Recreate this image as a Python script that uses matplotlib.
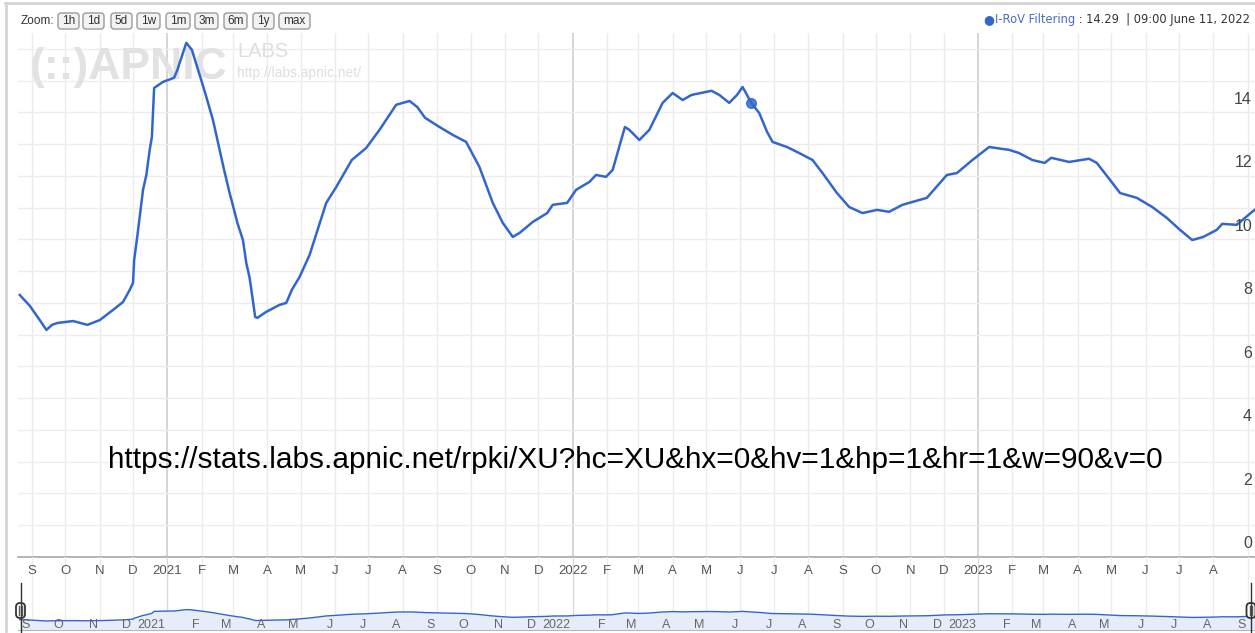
import numpy as np
import pandas as pd
import matplotlib
matplotlib.use("Agg")
import matplotlib.pyplot as plt
import matplotlib.transforms as mtransforms
from matplotlib.patches import FancyBboxPatch
from matplotlib.lines import Line2D

plt.rcParams['font.family'] = ['Liberation Sans', 'DejaVu Sans']

# ---------------- data ----------------
dates = [
    "2020-08-21", "2020-08-30", "2020-09-08", "2020-09-14", "2020-09-19", "2020-09-24",
    "2020-10-08", "2020-10-21", "2020-11-01", "2020-11-13", "2020-11-22", "2020-11-28",
    "2020-12-01", "2020-12-02", "2020-12-05", "2020-12-07", "2020-12-10", "2020-12-13",
    "2020-12-16", "2020-12-18", "2020-12-20", "2020-12-28", "2021-01-07", "2021-01-10",
    "2021-01-12", "2021-01-18", "2021-01-23", "2021-01-30", "2021-02-05", "2021-02-11",
    "2021-02-17", "2021-02-21", "2021-02-26", "2021-03-02", "2021-03-05", "2021-03-10",
    "2021-03-13", "2021-03-16", "2021-03-18", "2021-03-21", "2021-03-23", "2021-03-31",
    "2021-04-12", "2021-04-18", "2021-04-23", "2021-04-30", "2021-05-09", "2021-05-24",
    "2021-06-02", "2021-06-16", "2021-06-29", "2021-07-11", "2021-07-26", "2021-08-07",
    "2021-08-14", "2021-08-21", "2021-09-03", "2021-09-15", "2021-09-27", "2021-10-09",
    "2021-10-21", "2021-10-30", "2021-11-08", "2021-11-14", "2021-11-26", "2021-12-09",
    "2021-12-14", "2021-12-27", "2022-01-04", "2022-01-16", "2022-01-22", "2022-01-31",
    "2022-02-06", "2022-02-17", "2022-02-21", "2022-03-02", "2022-03-11", "2022-03-23",
    "2022-04-01", "2022-04-10", "2022-04-18", "2022-05-06", "2022-05-13", "2022-05-22",
    "2022-05-29", "2022-06-03", "2022-06-11", "2022-06-18", "2022-06-25", "2022-06-30",
    "2022-07-13", "2022-07-24", "2022-08-05", "2022-08-14", "2022-08-27", "2022-09-07",
    "2022-09-19", "2022-10-02", "2022-10-13", "2022-10-25", "2022-11-03", "2022-11-16",
    "2022-12-04", "2022-12-13", "2022-12-27", "2023-01-11", "2023-01-29", "2023-02-07",
    "2023-02-19", "2023-03-02", "2023-03-08", "2023-03-24", "2023-04-11", "2023-04-18",
    "2023-04-30", "2023-05-09", "2023-05-24", "2023-06-07", "2023-06-20", "2023-07-02",
    "2023-07-13", "2023-07-23", "2023-08-04", "2023-08-09", "2023-08-22", "2023-09-05",
    "2023-09-08",
]
values = [
    8.25, 7.91, 7.46, 7.15, 7.31, 7.37,
    7.43, 7.31, 7.46, 7.78, 8.03, 8.41,
    8.63, 9.35, 10.14, 10.71, 11.56, 12.03,
    12.82, 13.23, 14.77, 14.96, 15.09, 15.34,
    15.56, 16.19, 15.97, 15.18, 14.49, 13.76,
    12.82, 12.19, 11.46, 10.93, 10.52, 9.98,
    9.26, 8.79, 8.31, 7.56, 7.53, 7.72,
    7.94, 8.00, 8.41, 8.82, 9.51, 11.15,
    11.65, 12.50, 12.88, 13.45, 14.24, 14.36,
    14.17, 13.83, 13.54, 13.29, 13.07, 12.28,
    11.15, 10.52, 10.08, 10.20, 10.55, 10.83,
    11.09, 11.15, 11.56, 11.81, 12.03, 11.97,
    12.19, 13.54, 13.45, 13.13, 13.45, 14.30,
    14.61, 14.39, 14.55, 14.68, 14.55, 14.30,
    14.55, 14.80, 14.29, 13.98, 13.39, 13.07,
    12.91, 12.72, 12.50, 12.09, 11.46, 11.02,
    10.83, 10.93, 10.87, 11.09, 11.18, 11.31,
    12.03, 12.09, 12.50, 12.91, 12.82, 12.72,
    12.50, 12.41, 12.57, 12.44, 12.54, 12.41,
    11.87, 11.46, 11.31, 11.02, 10.68, 10.30,
    9.98, 10.08, 10.30, 10.49, 10.46, 10.87,
    10.95,
]
series_name = "I-RoV Filtering"
hover_date = "2022-06-11"
hover_value = 14.29
hover_text = "09:00 June 11, 2022"
month_labels = ["S", "O", "N", "D", "2021", "F", "M", "A", "M", "J", "J", "A",
                "S", "O", "N", "D", "2022", "F", "M", "A", "M", "J", "J", "A",
                "S", "O", "N", "D", "2023", "F", "M", "A", "M", "J", "J", "A", "S"]
y_ticks = [0, 2, 4, 6, 8, 10, 12, 14]
zoom_buttons = ["1h", "1d", "5d", "1w", "1m", "3m", "6m", "1y", "max"]
url_text = "https://stats.labs.apnic.net/rpki/XU?hc=XU&hx=0&hv=1&hp=1&hr=1&w=90&v=0"

# ---------------- layout ----------------
W, H = 1255, 633
fig = plt.figure(figsize=(W / 100, H / 100), dpi=100)
fig.patch.set_facecolor("white")

def fx(x):
    return x / W

def fy(y):
    return 1 - y / H

dts = pd.to_datetime(dates)
months = pd.date_range("2020-09-01", periods=len(month_labels), freq="MS")
origin = pd.Timestamp("2020-09-01")
xmin = origin - pd.Timedelta(days=12.6)
xmax = origin + pd.Timedelta(days=1101.5)

LINE = "#3366cc"
L, R = 18, 1255

# main axes
ax = fig.add_axes([fx(L), fy(557), fx(R) - fx(L), (557 - 33) / H])
ax.set_xlim(xmin, xmax)
ax.set_ylim(0, 16.5)
for s in ["top", "left", "right"]:
    ax.spines[s].set_visible(False)
ax.spines["bottom"].set_color("#a8a8a8")
ax.spines["bottom"].set_linewidth(1.2)
ax.set_xticks([])
ax.set_yticks([])
ax.set_facecolor("none")

for m in months:
    yr = m.month == 1
    ax.axvline(m, color="#d2d2d2" if yr else "#ebebeb", lw=1.3 if yr else 1.0, zorder=0)
for v in range(0, 17):
    ax.axhline(v, color="#ededed", lw=1.0, zorder=0)

ax.plot(dts, values, color=LINE, lw=1.8, zorder=3, solid_joinstyle="round")
ax.plot([pd.Timestamp(hover_date)], [hover_value], "o", color=LINE, ms=7, alpha=0.85, zorder=4)

# y labels inside on the right, above their gridlines
ytrans = mtransforms.offset_copy(
    mtransforms.blended_transform_factory(ax.transAxes, ax.transData), fig=fig, x=0, y=13, units="dots")
for v in y_ticks:
    ax.text((1252 - L) / (R - L), v, str(v), transform=ytrans, ha="right", va="center",
            fontsize=11.5, color="#444444", zorder=5)

# watermark
ax.text(fx(30), fy(79), "(::)APNIC", transform=fig.transFigure, fontsize=32, fontweight="bold",
        color="#e2e2e2", ha="left", va="baseline", zorder=1)
ax.text(fx(237), fy(57), "LABS", transform=fig.transFigure, fontsize=14.5,
        color="#dedede", ha="left", va="baseline", zorder=1)
ax.text(fx(237), fy(77), "http://labs.apnic.net/", transform=fig.transFigure, fontsize=10,
        color="#dedede", ha="left", va="baseline", zorder=1)

# lower band: month labels + navigator
axn = fig.add_axes([fx(L), fy(630), fx(R) - fx(L), (630 - 557) / H])
axn.set_xlim(xmin, xmax)
axn.set_ylim(0, 73 / 1.26)
for s in ["top", "left", "right"]:
    axn.spines[s].set_visible(False)
axn.spines["bottom"].set_color("#b8b8b8")
axn.set_xticks([])
axn.set_yticks([])
axn.set_facecolor("none")
for m in months:
    yr = m.month == 1
    axn.axvline(m, color="#d8d8d8" if yr else "#ececec", lw=1.0, zorder=0)
axn.fill_between(dts, 0, values, color="#e6ecf8", zorder=1, lw=0)
axn.plot(dts, values, color=LINE, lw=1.0, zorder=2)

btrans = mtransforms.blended_transform_factory(axn.transData, axn.transAxes)
for m, lab in zip(months[:-1], month_labels[:-1]):
    axn.text(m, (630 - 571) / 73, lab, transform=btrans, ha="center", va="center",
             fontsize=9.5, color="#555555")
ntrans = mtransforms.offset_copy(btrans, fig=fig, x=-2, y=0, units="dots")
for m, lab in zip(months, month_labels):
    axn.text(m, (630 - 625) / 73, lab, transform=ntrans, ha="right", va="center",
             fontsize=9, color="#666666", zorder=3)

# navigator handles (pixel coords)
ident = mtransforms.IdentityTransform()
for hx in (20.5, 1251):
    fig.add_artist(Line2D([hx, hx], [H - 583, H - 633], transform=ident, color="#333333", lw=1))
    fig.add_artist(FancyBboxPatch((hx - 4.5, H - 618), 9, 15, boxstyle="round,pad=0,rounding_size=4",
                                  transform=ident, facecolor="white", edgecolor="#333333", lw=1.3))
    for dx in (-1.3, 1.3):
        fig.add_artist(Line2D([hx + dx, hx + dx], [H - 606, H - 615], transform=ident,
                              color="#555555", lw=1))

# outer frame
fig.add_artist(Line2D([5, W], [H - 3, H - 3], transform=ident, color="#d4d4d4", lw=2))
fig.add_artist(Line2D([6, 6], [H - 3, H - 631], transform=ident, color="#d4d4d4", lw=2))

# zoom buttons
fig.text(fx(21), fy(21), "Zoom:", ha="left", va="center", fontsize=8.5, color="#333333")
btn_x = [(58, 79), (83, 104), (111, 132), (137, 160), (166, 190), (195, 218), (224, 247), (253, 274), (279, 310)]
for (x0, x1), lab in zip(btn_x, zoom_buttons):
    fig.add_artist(FancyBboxPatch((x0, H - 29), x1 - x0, 16, boxstyle="round,pad=0,rounding_size=3",
                                  transform=ident, facecolor="#f3f3f3", edgecolor="#9a9a9a", lw=1))
    fig.text(fx((x0 + x1) / 2), fy(21), lab, ha="center", va="center", fontsize=8.5, color="#333333")

# legend (top right)
t2 = fig.text(fx(1250), fy(20), " : %.2f  | %s" % (hover_value, hover_text), ha="right", va="center",
              fontsize=8.3, color="#333333", family=["DejaVu Sans"])
t1 = fig.add_artist(matplotlib.text.Annotation(
    series_name, xy=(0, 0.5), xycoords=t2, ha="right", va="center",
    fontsize=8.3, color="#4a6ad0", family=["DejaVu Sans"], annotation_clip=False))
fig.add_artist(matplotlib.text.Annotation(
    "\u25cf", xy=(0, 0.5), xycoords=t1, xytext=(-0.5, 0), textcoords="offset points",
    ha="right", va="center", fontsize=9, color=LINE, family=["DejaVu Sans"], annotation_clip=False))

# url overlay
fig.text(fx(635), fy(460), url_text, ha="center", va="center", fontsize=21.4, color="black")

fig.savefig("out.png", dpi=100)
